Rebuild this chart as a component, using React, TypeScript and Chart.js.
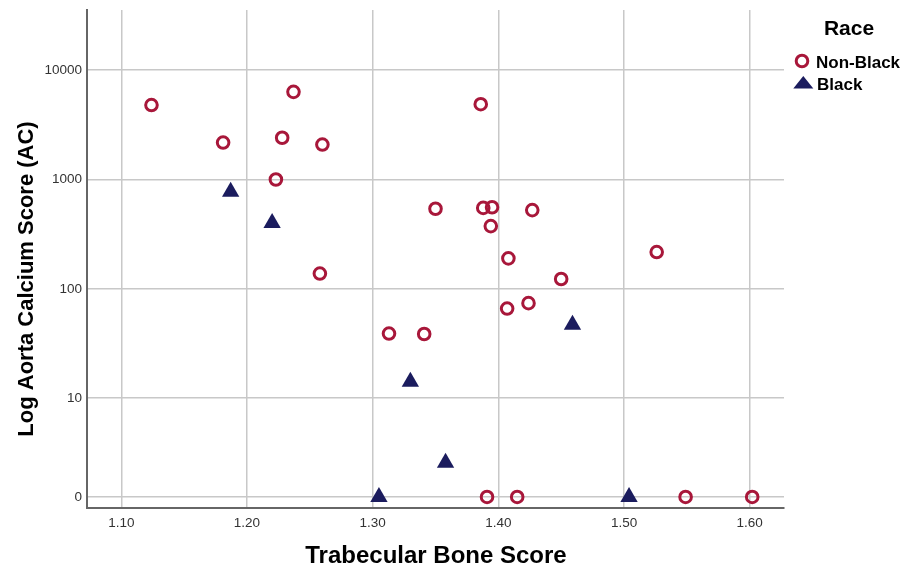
import React, { useEffect, useRef } from "react";
import { Chart, registerables } from "chart.js";

Chart.register(...registerables);

// Data (TBS on x, Aorta Calcium score on y, log-scaled display)
const NONBLACK_TBS = [1.124, 1.181, 1.237, 1.228, 1.223, 1.26, 1.258, 1.386, 1.35, 1.388, 1.395, 1.394, 1.427, 1.408, 1.45, 1.526, 1.407, 1.424, 1.313, 1.341, 1.391, 1.415, 1.549, 1.602];
const NONBLACK_AC = [4800, 2180, 6340, 2410, 1000, 2090, 138, 4890, 540, 550, 558, 375, 525, 190, 123, 217, 66, 74, 39, 38.6, 0, 0, 0, 0];
const BLACK_TBS = [1.187, 1.22, 1.459, 1.33, 1.358, 1.305, 1.504];
const BLACK_AC = [774, 401, 47, 14.1, 2.56, 0, 0];

const X_TICKS = [1.1, 1.2, 1.3, 1.4, 1.5, 1.6];
const Y_TICK_VALUES = [0, 10, 100, 1000, 10000];
const Y_TICK_LABELS = ["0", "10", "100", "1000", "10000"];

const ZERO_POS = 0.096;
const toPos = (v: number) => (v <= 0 ? ZERO_POS : Math.log10(v));

const FONT = '"Liberation Sans", Arial, Helvetica, sans-serif';
const RED = "#A8173A";
const NAVY = "#1B1C5E";

const overlay = {
  id: "overlay",
  afterDraw(chart: any) {
    const ctx = chart.ctx;
    ctx.save();
    ctx.fillStyle = "#000";
    // Y title
    ctx.save();
    ctx.translate(27, 279);
    ctx.rotate(-Math.PI / 2);
    ctx.font = `bold 22px ${FONT}`;
    ctx.textAlign = "center";
    ctx.textBaseline = "middle";
    ctx.fillText("Log Aorta Calcium Score (AC)", 0, 0);
    ctx.restore();
    // X title
    ctx.font = `bold 24px ${FONT}`;
    ctx.textAlign = "center";
    ctx.textBaseline = "alphabetic";
    ctx.fillText("Trabecular Bone Score", 436, 563);
    // Legend title
    ctx.font = `bold 21px ${FONT}`;
    ctx.fillText("Race", 849, 35);
    // Legend items
    ctx.font = `bold 17px ${FONT}`;
    ctx.textAlign = "left";
    ctx.fillText("Non-Black", 816, 68);
    ctx.fillText("Black", 817, 90);
    // circle marker
    ctx.beginPath();
    ctx.strokeStyle = RED;
    ctx.lineWidth = 3;
    ctx.arc(802, 61, 5.8, 0, Math.PI * 2);
    ctx.stroke();
    // triangle marker
    ctx.beginPath();
    ctx.fillStyle = NAVY;
    ctx.moveTo(803.3, 76);
    ctx.lineTo(813.3, 88.5);
    ctx.lineTo(793.3, 88.5);
    ctx.closePath();
    ctx.fill();
    ctx.restore();
  },
};

export default function App() {
  const ref = useRef<HTMLCanvasElement>(null);
  useEffect(() => {
    document.body.style.margin = "0";
    const canvas = ref.current!;
    const chart = new Chart(canvas, {
      type: "scatter",
      data: {
        datasets: [
          {
            label: "Non-Black",
            data: NONBLACK_TBS.map((x, i) => ({ x, y: toPos(NONBLACK_AC[i]) })),
            pointStyle: "circle",
            pointRadius: 5.8,
            pointBorderWidth: 3,
            borderColor: RED,
            backgroundColor: "rgba(0,0,0,0)",
            pointHoverRadius: 5.8,
          },
          {
            label: "Black",
            data: BLACK_TBS.map((x, i) => ({ x, y: toPos(BLACK_AC[i]) })),
            pointStyle: "triangle",
            pointRadius: 10,
            pointBorderWidth: 0,
            borderColor: NAVY,
            backgroundColor: NAVY,
            pointHoverRadius: 10,
          },
        ],
      },
      options: {
        responsive: false,
        animation: false,
        layout: { padding: { top: 9, right: 126, left: 0, bottom: 0 } },
        plugins: { legend: { display: false }, tooltip: { enabled: false } },
        scales: {
          x: {
            type: "linear",
            min: 1.0727,
            max: 1.6273,
            afterBuildTicks: (s: any) => {
              s.ticks = X_TICKS.map((value) => ({ value }));
            },
            afterFit: (s: any) => {
              s.height = 61;
              s.paddingLeft = 0;
              s.paddingRight = 0;
            },
            ticks: {
              callback: (v: any) => Number(v).toFixed(2),
              font: { family: FONT, size: 13.5 },
              color: "#333",
              padding: 7,
              maxRotation: 0,
            },
            grid: { color: "#c8c8c8", lineWidth: 1.5, drawTicks: false },
            border: { color: "#666", width: 2 },
          },
          y: {
            type: "linear",
            min: -0.005,
            max: 4.551,
            afterBuildTicks: (s: any) => {
              s.ticks = Y_TICK_VALUES.map((v) => ({ value: toPos(v) }));
            },
            afterFit: (s: any) => {
              s.width = 87;
              s.paddingTop = 0;
              s.paddingBottom = 0;
            },
            ticks: {
              callback: (_v: any, idx: number) => Y_TICK_LABELS[idx],
              font: { family: FONT, size: 13.5 },
              color: "#333",
              padding: 5,
            },
            grid: { color: "#c8c8c8", lineWidth: 1.5, drawTicks: false },
            border: { color: "#666", width: 2 },
          },
        },
      },
      plugins: [overlay],
    });
    return () => chart.destroy();
  }, []);
  return <canvas ref={ref} width={910} height={569} style={{ display: "block" }} />;
}
